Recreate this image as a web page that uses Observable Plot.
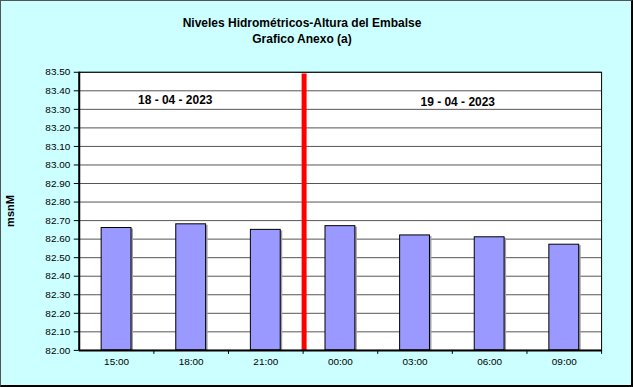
<!DOCTYPE html>
<html>
<head>
<meta charset="utf-8">
<script src="https://cdn.jsdelivr.net/npm/d3@7"></script>
<script src="https://cdn.jsdelivr.net/npm/@observablehq/plot@0.6"></script>
<style>
  html, body { margin: 0; padding: 0; background: #fff; }
  #wrap {
    position: relative; width: 633px; height: 387px; box-sizing: border-box;
    background: #CCFFFF; border: 1px solid #555; border-right: 2px solid #000; border-bottom: 2px solid #000;
    font-family: "Liberation Sans", Arial, sans-serif; overflow: hidden;
  }
  .title { position: absolute; left: 0; width: 602px; text-align: center; font-weight: bold; font-size: 12px; color: #000; }
  #ylab { position: absolute; left: 3px; top: 210px; transform-origin: 0 0; transform: rotate(-90deg) translate(-50%, 0); font-weight: bold; font-size: 11px; }
  #chart { position: absolute; left: -1px; top: -1px; }
</style>
</head>
<body>
<div id="wrap">
  <div class="title" style="top:15px">Niveles Hidrométricos-Altura del Embalse</div>
  <div class="title" style="top:31px">Grafico Anexo (a)</div>
  <div id="ylab">msnM</div>
  <div id="chart"></div>
</div>
<script>
const horas = ["15:00", "18:00", "21:00", "00:00", "03:00", "06:00", "09:00"];
const niveles = [82.66, 82.68, 82.65, 82.67, 82.62, 82.61, 82.57];
const fechas = ["18 - 04 - 2023", "19 - 04 - 2023"];
const fechaHoras = ["18:00", "06:00"];
const fechaNivel = [83.35, 83.34];
const corteHora = "21:00";

const data = horas.map((h, i) => ({hora: h, nivel: niveles[i]}));
const W = 633, H = 387, mL = 79, mR = 30, mT = 72, mB = 36;
const step = (W - mL - mR) / horas.length;

const chart = Plot.plot({
  width: W, height: H,
  marginLeft: mL, marginRight: mR, marginTop: mT, marginBottom: mB,
  style: {background: "transparent", fontFamily: "'Liberation Sans', Arial, sans-serif", fontSize: "10px", color: "#000"},
  x: {domain: horas, paddingInner: 0.6, paddingOuter: 0.3, round: false, label: null, tickSize: 0, tickPadding: 8},
  y: {domain: [82, 83.5], ticks: d3.range(82, 83.51, 0.1), tickFormat: d => d.toFixed(2), label: null, tickSize: 5, tickPadding: 4},
  marks: [
    Plot.frame({fill: "white", stroke: "none"}),
    Plot.gridY(d3.range(82.1, 83.5, 0.1), {stroke: "#555", strokeOpacity: 1, strokeWidth: 1}),
    Plot.barY(data, {x: "hora", y1: 82, y2: "nivel", fill: "#a0a0a0", dx: 2, dy: 1}),
    Plot.barY(data, {x: "hora", y1: 82, y2: "nivel", fill: "#9999FF", stroke: "#000", strokeWidth: 1}),
    Plot.ruleX(horas, {x: d => d, dx: step / 2, y1: 82, y2: 82, insetBottom: -4, stroke: "#000"}),
    Plot.ruleX([corteHora], {x: d => d, dx: step / 2 + 1, y1: 83.49, y2: 82, stroke: "#FF0000", strokeWidth: 5}),
    Plot.text([fechas[0]], {x: () => fechaHoras[0], y: () => fechaNivel[0], text: d => d, dx: -16, fontWeight: "bold", fontSize: 12}),
    Plot.text([fechas[1]], {x: () => fechaHoras[1], y: () => fechaNivel[1], text: d => d, dx: -32, fontWeight: "bold", fontSize: 12}),
    Plot.frame({stroke: "#000", strokeWidth: 1}),
    Plot.ruleY([82], {stroke: "#000", strokeWidth: 2}),
    Plot.ruleX([0], {x: () => horas[0], dx: -step / 2, stroke: "#000", strokeWidth: 2})
  ]
});
document.getElementById("chart").appendChild(chart);
</script>
</body>
</html>
